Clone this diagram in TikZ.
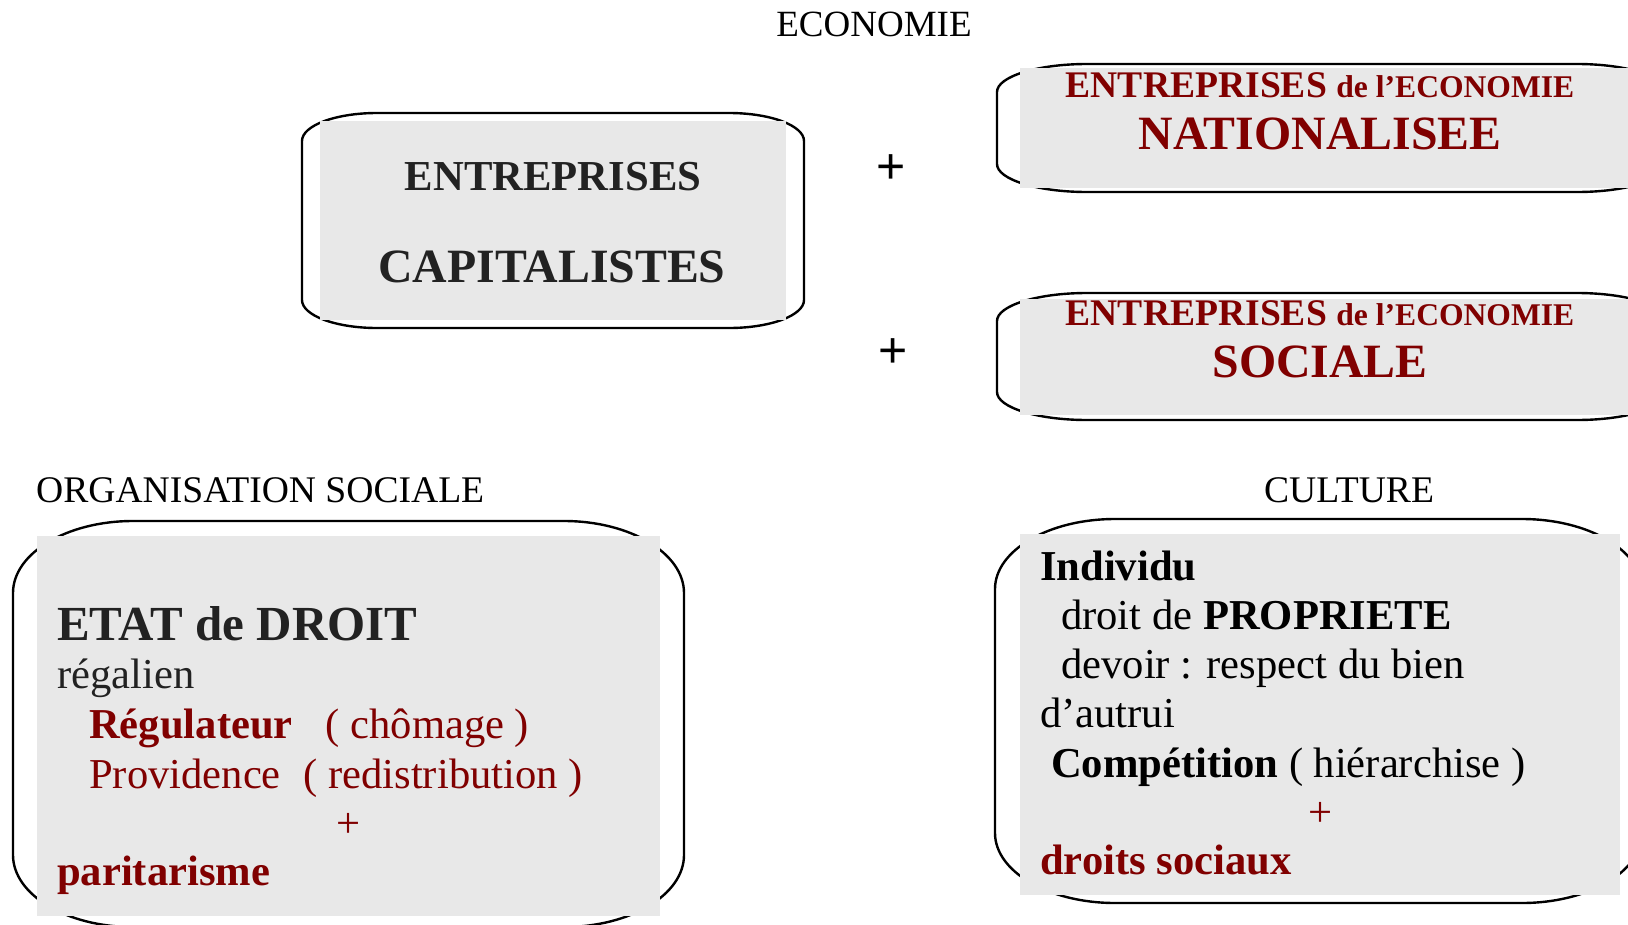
\documentclass[tikz,border=0pt]{standalone}
\usepackage{fontspec}
\setmainfont{Liberation Serif}
\newfontfamily\plusfont{Liberation Sans}
\usepackage{tikz}

\definecolor{bordeaux}{RGB}{128,0,0}
\definecolor{marbre}{RGB}{232,232,232}
\definecolor{encre}{RGB}{34,34,34}
\newcommand{\taille}[1]{\fontsize{#1}{#1}\selectfont}
% x1 y1 x2 y2 rx ry : cadre aux coins elliptiques
\newcommand{\plaque}[6]{%
  \draw[cadre] ({#1},{#2+#6})
    .. controls ({#1},{#2+0.448*#6}) and ({#1+0.448*#5},{#2}) .. ({#1+#5},{#2})
    -- ({#3-#5},{#2})
    .. controls ({#3-0.448*#5},{#2}) and ({#3},{#2+0.448*#6}) .. ({#3},{#2+#6})
    -- ({#3},{#4-#6})
    .. controls ({#3},{#4-0.448*#6}) and ({#3-0.448*#5},{#4}) .. ({#3-#5},{#4})
    -- ({#1+#5},{#4})
    .. controls ({#1+0.448*#5},{#4}) and ({#1},{#4-0.448*#6}) .. ({#1},{#4-#6})
    -- cycle;}

\tikzset{
  cadre/.style={draw=black, line width=2.4pt, fill=white},
  marbrure/.style={fill=marbre},
  ligne/.style={anchor=base west, inner sep=0pt},
  titre/.style={anchor=base, inner sep=0pt},
  plus/.style={inner sep=0pt, font=\plusfont\taille{50}}
}

\begin{document}
\begin{tikzpicture}[x=1pt,y=-1pt]
  \useasboundingbox (0,0) rectangle (1628,924);
  \clip (0,0) rectangle (1628,924);

  % plaques
  \plaque{302}{113}{804}{328}{75}{28}
  \fill[marbrure] (320,121) rectangle (786,320);
  \plaque{997}{64}{1667}{192}{90}{28}
  \fill[marbrure] (1020,68) rectangle (1640,188);
  \plaque{997}{293}{1667}{420}{90}{28}
  \fill[marbrure] (1020,299) rectangle (1640,415);
  \plaque{13}{521}{684}{927}{120}{72}
  \fill[marbrure] (37,536) rectangle (660,916);
  \plaque{995}{519}{1642}{903}{120}{70}
  \fill[marbrure] (1020,534) rectangle (1620,895);

  % titres
  \node[titre] (economie) at (874,36) {\taille{37}ECONOMIE};
  \node[ligne] (organisation) at (36,502) {\taille{37.6}ORGANISATION SOCIALE};
  \node[titre] (culture) at (1349,502) {\taille{37.6}CULTURE};

  % economie
  \node[titre, text=encre] (entreprises) at (553,190)
    {\taille{42.7}\bfseries ENTREPRISES};
  \node[titre, text=encre] (capitalistes) at (552,282)
    {\taille{47.8}\bfseries CAPITALISTES};
  \node[plus] (plusa) at (891,169) {+};
  \node[plus] (plusb) at (893,353) {+};
  \node[titre, text=bordeaux] (entnat) at (1320,97)
    {\bfseries\taille{37.6}ENTREPRISES \taille{31.6}de l’ECONOMIE};
  \node[titre, text=bordeaux] (nationalisee) at (1320,149)
    {\taille{47.8}\bfseries NATIONALISEE};
  \node[titre, text=bordeaux] (entsoc) at (1320,325)
    {\bfseries\taille{37.6}ENTREPRISES \taille{31.6}de l’ECONOMIE};
  \node[titre, text=bordeaux] (sociale) at (1320,377)
    {\taille{47.8}\bfseries SOCIALE};

  % organisation sociale
  \node[ligne, text=encre] (etat) at (57,640) {\taille{49}\bfseries ETAT de DROIT};
  \node[ligne, text=encre] (regalien) at (57,688) {\taille{42.6}régalien};
  \node[ligne, text=bordeaux] (regulateur) at (89,738)
    {\taille{42.6}\textbf{Régulateur}\hspace{33pt}( chômage )};
  \node[ligne, text=bordeaux] (providence) at (89,788)
    {\taille{42.6}Providence\hspace{12pt} ( redistribution )};
  \node[plus, font=\taille{42.6}, text=bordeaux] (plusc) at (349,825) {+};
  \node[ligne, text=bordeaux] (paritarisme) at (57,885)
    {\taille{42.6}\bfseries paritarisme};

  % culture
  \node[ligne] (individu) at (1040,580) {\taille{42.6}\bfseries Individu};
  \node[ligne] (propriete) at (1061,629)
    {\taille{42.6}droit de \textbf{PROPRIETE}};
  \node[ligne] (devoir) at (1061,678)
    {\taille{42.6}devoir : respect du bien};
  \node[ligne] (autrui) at (1040,727) {\taille{42.6}d’autrui};
  \node[ligne] (competition) at (1051,777)
    {\taille{42.6}\textbf{Compétition} ( hiérarchise )};
  \node[plus, font=\taille{42.6}, text=bordeaux] (plusd) at (1320,814) {+};
  \node[ligne, text=bordeaux] (droits) at (1040,874)
    {\taille{42.6}\bfseries droits sociaux};
\end{tikzpicture}
\end{document}
